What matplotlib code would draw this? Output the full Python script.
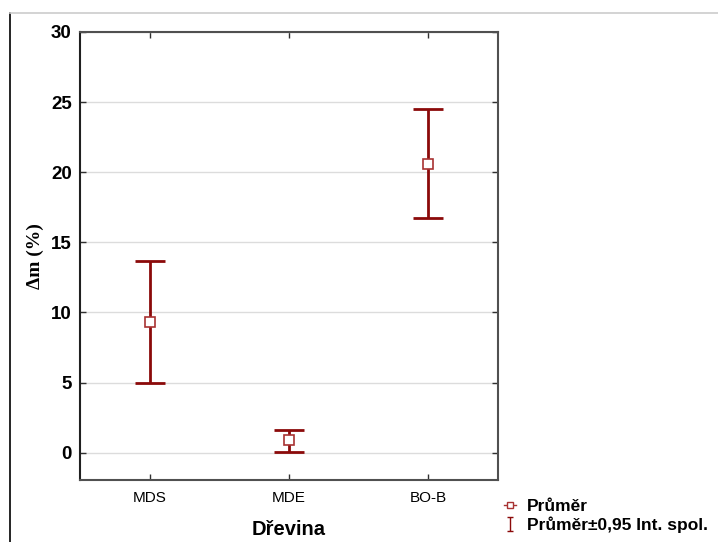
import matplotlib

matplotlib.use("Agg")

import matplotlib.pyplot as plt
from matplotlib.lines import Line2D
from matplotlib.path import Path

# Values
categories = ["MDS", "MDE", "BO-B"]
means = [9.3, 0.9, 20.6]
ci_low = [5.0, 0.05, 16.7]
ci_high = [13.65, 1.6, 24.5]
y_ticks = [0, 5, 10, 15, 20, 25, 30]

RED = "#8b0a0a"
MARKER_RED = "#a83232"

plt.rcParams["font.family"] = ["Liberation Sans", "DejaVu Sans"]

fig = plt.figure(figsize=(7.18, 5.42), dpi=100)
ax = fig.add_axes([80 / 718, 1 - 480 / 542, 418 / 718, 448 / 542])

x = list(range(len(categories)))
yerr = [[m - lo for m, lo in zip(means, ci_low)],
        [hi - m for m, hi in zip(means, ci_high)]]
ax.errorbar(x, means, yerr=yerr, fmt="none", ecolor=RED, elinewidth=2.0,
            capsize=11, capthick=2.0, zorder=3)
ax.plot(x, means, linestyle="none", marker="s", markersize=7.5,
        markerfacecolor="white", markeredgecolor=MARKER_RED,
        markeredgewidth=1.2, zorder=4)

ax.set_xlim(-0.5, 2.5)
ax.set_ylim(-1.95, 30)
ax.set_yticks(y_ticks)
ax.set_xticks(x)
ax.set_xticklabels(categories, fontsize=11)
ax.set_yticklabels([str(t) for t in y_ticks], fontsize=13.5, fontweight="bold")
ax.tick_params(direction="in", length=4, width=1, top=True, right=True,
               color="#303030")
ax.tick_params(axis="x", pad=8)
ax.tick_params(axis="y", pad=6)
ax.grid(axis="y", color="#dcdcdc", linewidth=1.0)
ax.set_axisbelow(True)
for side in ("top", "right", "bottom"):
    ax.spines[side].set_color("#505050")
    ax.spines[side].set_linewidth(1.5)
ax.spines["left"].set_color("#202020")
ax.spines["left"].set_linewidth(1.5)

ax.set_xlabel("Dřevina", fontsize=14.5, fontweight="bold", labelpad=11)
ax.set_ylabel("Δm (%)", fontsize=14, fontweight="bold",
              family=["Liberation Serif", "DejaVu Serif"], labelpad=5)

# Outer frame lines of the exported picture
fig.add_artist(Line2D([10 / 718, 10 / 718], [0, 1 - 13 / 542],
                      transform=fig.transFigure, color="black", linewidth=1.2))
fig.add_artist(Line2D([10 / 718, 1], [1 - 13 / 542, 1 - 13 / 542],
                      transform=fig.transFigure, color="#cccccc", linewidth=1.2))

ibeam = Path([(-0.5, -1), (0.5, -1), (0, -1), (0, 1), (-0.5, 1), (0.5, 1)],
             [Path.MOVETO, Path.LINETO, Path.MOVETO, Path.LINETO,
              Path.MOVETO, Path.LINETO])
handles = [
    Line2D([], [], color=MARKER_RED, marker="s", markersize=5,
           markerfacecolor="white", markeredgecolor=MARKER_RED, linewidth=1.0),
    Line2D([], [], color=RED, marker=ibeam, markersize=10, linestyle="none",
           markeredgewidth=1.0),
]
fig.legend(handles, ["Průměr", "Průměr±0,95 Int. spol."],
           loc="upper left", bbox_to_anchor=(497 / 718, 1 - 492 / 542),
           frameon=False, handlelength=0.7, handletextpad=0.6,
           labelspacing=0.12, borderaxespad=0, prop={"weight": "bold", "size": 12.5})

fig.savefig("out.png", dpi=100)
